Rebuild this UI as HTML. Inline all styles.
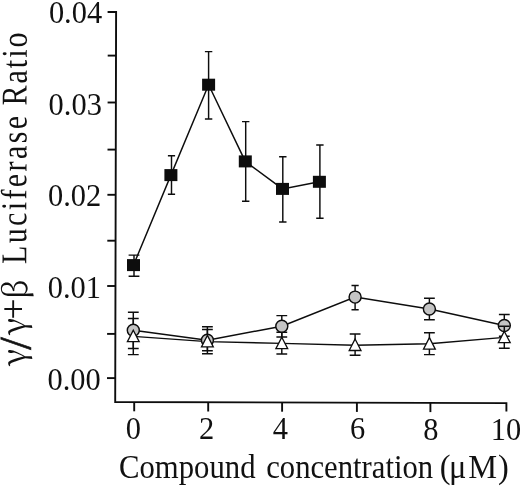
<!DOCTYPE html>
<html><head><meta charset="utf-8"><title>Figure</title>
<style>
html,body{margin:0;padding:0;background:#fff;}
body{width:520px;height:488px;overflow:hidden;}
svg{display:block;}
text{font-family:"Liberation Serif","DejaVu Serif",serif;fill:#111;}
.gk{font-family:"Noto Serif CJK SC","Liberation Serif",serif;}
</style></head><body>
<svg width="520" height="488" viewBox="0 0 520 488">
<rect width="520" height="488" fill="#fff"/>
<g stroke="#0d0d0d" stroke-width="1.9" fill="none" stroke-linecap="butt">
<path d="M107.6 12 H116.1 L115.2 402 L506.4 403.1 V411.6"/>
<path d="M107.7 55.6 H116.0"/>
<path d="M107.6 102.5 H115.9"/>
<path d="M107.5 149.6 H115.8"/>
<path d="M107.4 194.8 H115.7"/>
<path d="M107.3 240.7 H115.6"/>
<path d="M107.2 286.0 H115.5"/>
<path d="M107.1 333.9 H115.4"/>
<path d="M107.0 378.1 H115.3"/>
<path d="M134.2 402.1 V411.3"/>
<path d="M208.2 402.3 V411.5"/>
<path d="M282.1 402.5 V411.7"/>
<path d="M356.9 402.7 V411.9"/>
<path d="M430.4 402.9 V412.1"/>
</g>
<g stroke="#0d0d0d" stroke-width="1.45" fill="none">
<path d="M133.5 265.1 L170.9 175.1 L208.6 84.7 L245.3 161.4 L282.5 188.9 L319.4 181.8"/>
<path d="M134.0 255.1 V276.2 M128.6 255.1 H139.4 M128.6 276.2 H139.4"/>
<path d="M171.5 155.8 V194.2 M167.9 155.8 H175.1 M167.9 194.2 H175.1"/>
<path d="M208.6 51.6 V119.0 M204.9 51.6 H212.3 M204.9 119.0 H212.3"/>
<path d="M245.7 121.6 V201.3 M242.0 121.6 H249.4 M242.0 201.3 H249.4"/>
<path d="M282.8 156.7 V221.9 M279.1 156.7 H286.5 M279.1 221.9 H286.5"/>
<path d="M319.9 144.9 V218.2 M316.2 144.9 H323.6 M316.2 218.2 H323.6"/>
<rect x="127.0" y="259.1" width="13" height="12" fill="#0d0d0d" stroke="none"/>
<rect x="164.4" y="169.1" width="13" height="12" fill="#0d0d0d" stroke="none"/>
<rect x="202.1" y="78.7" width="13" height="12" fill="#0d0d0d" stroke="none"/>
<rect x="238.8" y="155.4" width="13" height="12" fill="#0d0d0d" stroke="none"/>
<rect x="276.0" y="182.9" width="13" height="12" fill="#0d0d0d" stroke="none"/>
<rect x="312.9" y="175.8" width="13" height="12" fill="#0d0d0d" stroke="none"/>
<path d="M133.3 330.2 L207.4 340.3 L281.8 326.2 L355.1 297.1 L429.4 309.0 L504.3 325.5"/>
<path d="M133.3 336.4 L207.4 341.6 L281.8 343.4 L355.1 345.2 L429.4 343.8 L504.3 337.4"/>
<path d="M133.3 312.3 V348.4 M127.9 312.3 H138.7 M127.9 348.4 H138.7"/>
<path d="M207.4 326.7 V353.7 M202.0 326.7 H212.8 M202.0 353.7 H212.8"/>
<path d="M281.8 315.6 V336.9 M276.4 315.6 H287.2 M276.4 336.9 H287.2"/>
<path d="M355.1 285.4 V309.8 M351.5 285.4 H358.7 M351.5 309.8 H358.7"/>
<path d="M429.4 298.2 V319.8 M424.0 298.2 H434.8 M424.0 319.8 H434.8"/>
<path d="M504.3 314.5 V336.3 M498.9 314.5 H509.7 M498.9 336.3 H509.7"/>
<path d="M133.3 318.5 V354.6 M127.9 318.5 H138.7 M127.9 354.6 H138.7"/>
<path d="M207.4 329.5 V350.8 M202.0 329.5 H212.8 M202.0 350.8 H212.8"/>
<path d="M281.8 332.2 V353.9 M276.4 332.2 H287.2 M276.4 353.9 H287.2"/>
<path d="M355.1 334.0 V355.2 M349.7 334.0 H360.5 M349.7 355.2 H360.5"/>
<path d="M429.4 332.8 V354.6 M424.0 332.8 H434.8 M424.0 354.6 H434.8"/>
<circle cx="133.3" cy="330.2" r="6.0" fill="#c4c4c4"/>
<circle cx="207.4" cy="340.3" r="6.0" fill="#c4c4c4"/>
<circle cx="281.8" cy="326.2" r="6.0" fill="#c4c4c4"/>
<circle cx="355.1" cy="297.1" r="6.0" fill="#c4c4c4"/>
<circle cx="429.4" cy="309.0" r="6.0" fill="#c4c4c4"/>
<circle cx="504.3" cy="325.5" r="6.0" fill="#c4c4c4"/>
<path d="M504.3 326.2 V348.3 M498.9 326.2 H509.7 M498.9 348.3 H509.7"/>
<path d="M133.3 330.2 L139.2 341.7 H127.4 Z" fill="#fff" stroke-width="1.3" stroke-linejoin="miter"/>
<path d="M207.4 335.4 L213.3 346.9 H201.5 Z" fill="#fff" stroke-width="1.3" stroke-linejoin="miter"/>
<path d="M281.8 337.2 L287.7 348.7 H275.9 Z" fill="#fff" stroke-width="1.3" stroke-linejoin="miter"/>
<path d="M355.1 339.0 L361.0 350.5 H349.2 Z" fill="#fff" stroke-width="1.3" stroke-linejoin="miter"/>
<path d="M429.4 337.6 L435.3 349.1 H423.5 Z" fill="#fff" stroke-width="1.3" stroke-linejoin="miter"/>
<path d="M504.3 331.2 L510.2 342.7 H498.4 Z" fill="#fff" stroke-width="1.3" stroke-linejoin="miter"/>
</g>
<g font-size="30">
<text transform="translate(48.9 22.7) scale(1.015 1.085)">0.04</text>
<text transform="translate(48.6 115.1) scale(1.015 1.085)">0.03</text>
<text transform="translate(48.0 206.0) scale(1.015 1.085)">0.02</text>
<text transform="translate(47.8 297.7) scale(1.015 1.085)">0.01</text>
<text transform="translate(47.5 389.6) scale(1.015 1.085)">0.00</text>
<text transform="translate(133.45 439.0) scale(1.015 1.06)" text-anchor="middle">0</text>
<text transform="translate(206.5 439.0) scale(1.015 1.06)" text-anchor="middle">2</text>
<text transform="translate(280.3 439.0) scale(1.015 1.06)" text-anchor="middle">4</text>
<text transform="translate(357.7 439.4) scale(1.015 1.06)" text-anchor="middle">6</text>
<text transform="translate(430.9 439.6) scale(1.015 1.06)" text-anchor="middle">8</text>
<text transform="translate(505.9 439.8) scale(1.015 1.06)" text-anchor="middle">10</text>
</g>
<g transform="translate(0 478.0) scale(1 1.13)" font-size="30">
<text x="119.0" y="0" textLength="136.5" lengthAdjust="spacingAndGlyphs">Compound</text>
<text x="266.2" y="0" textLength="167" lengthAdjust="spacingAndGlyphs">concentration</text>
</g>
<text transform="translate(439.7 478.0) scale(1.08 1.13)" font-size="30" x="0 8.6 26.5 53.9" y="0">(μM)</text>
<g transform="translate(26.85,0) rotate(-89.85)" font-size="30">
<text x="-366.3" y="-0.5" font-size="33" class="gk">γ</text>
<text x="-349.8" y="4.6" font-size="45" stroke="#111" stroke-width="0.6">/</text>
<text x="-335.3" y="-0.5" font-size="33" class="gk">γ</text>
<text x="-319.7" y="-0.3" font-size="38">+</text>
<text x="-299.5" y="1.0" font-size="32.5" class="gk">β</text>
<text transform="translate(-264 0) scale(1 1.21)" textLength="148" lengthAdjust="spacing">Luciferase</text>
<text transform="translate(-105.5 0) scale(1 1.21)" textLength="73" lengthAdjust="spacing">Ratio</text>
</g>
</svg>
</body></html>
